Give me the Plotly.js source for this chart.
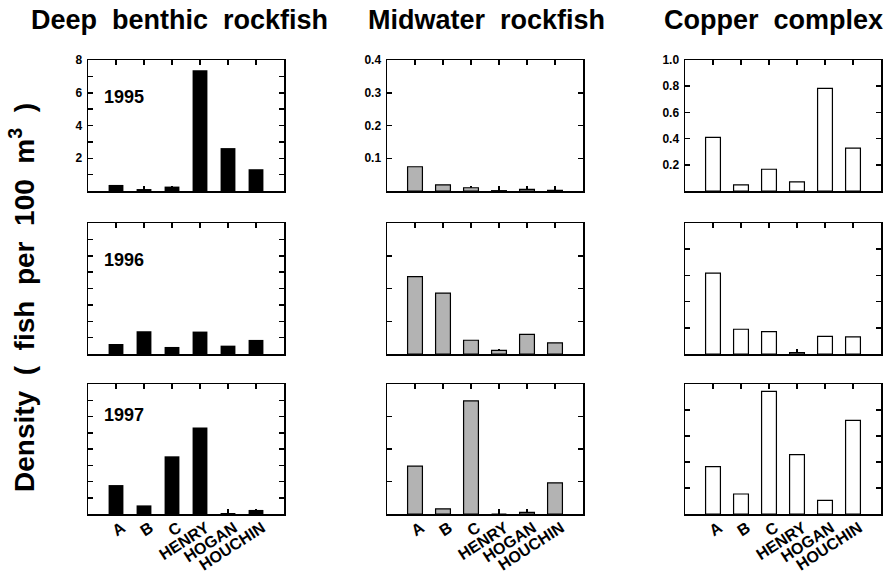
<!DOCTYPE html>
<html>
<head>
<meta charset="utf-8">
<script src="https://cdn.plot.ly/plotly-3.0.1.min.js"></script>
<style>
  html, body { margin: 0; padding: 0; background: #fff; }
  #chart { width: 886px; height: 574px; }
</style>
</head>
<body>
<div id="chart"></div>
<script>
// Sampling sites (x categories)
const sites = ['A', 'B', 'C', 'HENRY', 'HOGAN', 'HOUCHIN'];
const years = ['1995', '1996', '1997'];
const groups = ['Deep\u00a0\u00a0benthic\u00a0\u00a0rockfish', 'Midwater\u00a0\u00a0rockfish', 'Copper\u00a0\u00a0complex'];

// Density (fish per 100 m^3) by site
const deep1995 = [0.37, 0.12, 0.27, 7.37, 2.62, 1.33];
const deep1996 = [0.61, 1.39, 0.43, 1.37, 0.51, 0.86];
const deep1997 = [1.78, 0.53, 3.55, 5.33, 0.06, 0.25];

const mid1995 = [0.074, 0.019, 0.010, 0.001, 0.005, 0.002];
const mid1996 = [0.236, 0.186, 0.042, 0.011, 0.060, 0.034];
const mid1997 = [0.147, 0.016, 0.348, 0.000, 0.005, 0.096];

const cop1995 = [0.410, 0.046, 0.166, 0.069, 0.783, 0.327];
const cop1996 = [0.617, 0.189, 0.171, 0.010, 0.135, 0.130];
const cop1997 = [0.364, 0.154, 0.944, 0.456, 0.105, 0.720];

// Y scales per column: labelled ticks and minor tick spacing
const deepTicks = [2, 4, 6, 8];
const deepTickText = ['2', '4', '6', '8'];
const midTicks = [0.1, 0.2, 0.3, 0.4];
const midTickText = ['0.1', '0.2', '0.3', '0.4'];
const copTicks = [0.2, 0.4, 0.6, 0.8, 1.0];
const copTickText = ['0.2', '0.4', '0.6', '0.8', '1.0'];

const values = [
  [deep1995, mid1995, cop1995],
  [deep1996, mid1996, cop1996],
  [deep1997, mid1997, cop1997]
];
const colTicks = [deepTicks, midTicks, copTicks];
const colTickText = [deepTickText, midTickText, copTickText];
const colRange = [[0, 8], [0, 0.4], [0, 1.0]];
const colMinor = [1, 0.1, 0.2];
const colFill = ['#000000', '#b3b3b3', '#ffffff'];

const W = 886, H = 574;
const colPx = [[88, 284], [387, 583], [685, 881]];
const rowPx = [[60, 191], [223, 354], [384, 514]];

const FONT = 'Liberation Sans, Arial, Helvetica, sans-serif';

const traces = [];
const layout = {
  width: W, height: H,
  margin: {l: 0, r: 0, t: 0, b: 0},
  paper_bgcolor: '#fff',
  plot_bgcolor: '#fff',
  showlegend: false,
  font: {family: FONT, color: '#000', weight: 'bold'},
  annotations: []
};

const axisLine = {
  showline: true, linecolor: '#000', linewidth: 1.5,
  mirror: 'ticks',
  ticks: 'inside', ticklen: 5, tickwidth: 1.5, tickcolor: '#000',
  showgrid: false, zeroline: false,
  layer: 'below traces',
  fixedrange: true
};

for (let r = 0; r < 3; r++) {
  for (let c = 0; c < 3; c++) {
    const k = r * 3 + c + 1;
    const xa = k === 1 ? 'x' : 'x' + k;
    const ya = k === 1 ? 'y' : 'y' + k;
    traces.push({
      type: 'bar',
      x: sites,
      y: values[r][c],
      xaxis: xa, yaxis: ya,
      width: 0.53,
      marker: {color: colFill[c], line: {color: '#000', width: c === 0 ? 0 : 1.2}},
      hoverinfo: 'x+y'
    });
    const xKey = k === 1 ? 'xaxis' : 'xaxis' + k;
    const yKey = k === 1 ? 'yaxis' : 'yaxis' + k;
    layout[xKey] = Object.assign({}, axisLine, {
      domain: [colPx[c][0] / W, colPx[c][1] / W],
      anchor: ya,
      type: 'category',
      range: [-1, 6],
      showticklabels: r === 2,
      tickangle: -33,
      ticklabelshift: 6,
      ticklabelstandoff: -3,
      tickfont: {family: FONT, size: 16, color: '#000', weight: 'bold'}
    });
    layout[yKey] = Object.assign({}, axisLine, {
      domain: [1 - rowPx[r][1] / H, 1 - rowPx[r][0] / H],
      anchor: xa,
      range: colRange[c],
      tickmode: 'array',
      tickvals: colTicks[c],
      ticktext: colTickText[c],
      showticklabels: r === 0,
      minor: {dtick: colMinor[c], tick0: 0, ticks: 'inside', ticklen: 5, tickwidth: 1.5, tickcolor: '#000', showgrid: false},
      tickfont: {family: FONT, size: 12, color: '#000', weight: 'bold'},
      ticklabelstandoff: 2
    });
  }
  // Year label in the first column of each row
  layout.annotations.push({
    text: years[r],
    xref: (r === 0 ? 'x' : 'x' + (r * 3 + 1)) + ' domain',
    yref: (r === 0 ? 'y' : 'y' + (r * 3 + 1)) + ' domain',
    x: 0.07, y: r === 2 ? 0.76 : 0.72,
    xanchor: 'left', yanchor: 'middle',
    showarrow: false,
    font: {family: FONT, size: 18, color: '#000', weight: 'bold'}
  });
}

// Column headings
const titleX = [179, 486, 773];
for (let c = 0; c < 3; c++) {
  layout.annotations.push({
    text: groups[c],
    xref: 'paper', yref: 'paper',
    x: titleX[c] / W, y: 1 - 20 / H,
    xanchor: 'center', yanchor: 'middle',
    showarrow: false,
    font: {family: FONT, size: 27, color: '#000', weight: 'bold'}
  });
}

// Shared y-axis title
const sp2 = '\u00a0\u00a0';
layout.annotations.push({
  text: 'Density' + sp2 + '(' + sp2 + 'fish' + sp2 + 'per' + sp2 + '100' + sp2 + 'm<sup>3</sup>' + sp2 + ')',
  xref: 'paper', yref: 'paper',
  x: 22 / W, y: 1 - 298 / H,
  xanchor: 'center', yanchor: 'middle',
  textangle: -90,
  showarrow: false,
  font: {family: FONT, size: 28, color: '#000', weight: 'bold'}
});

Plotly.newPlot('chart', traces, layout, {displayModeBar: false, staticPlot: true});
</script>
</body>
</html>
